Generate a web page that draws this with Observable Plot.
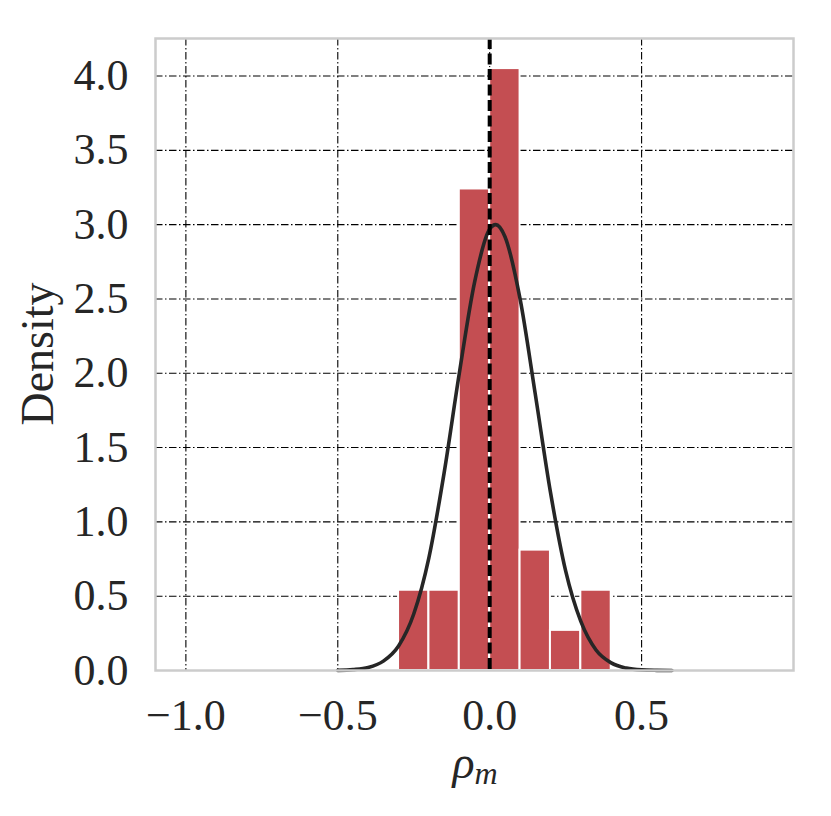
<!DOCTYPE html>
<html>
<head>
<meta charset="utf-8">
<script src="https://cdn.jsdelivr.net/npm/d3@7"></script>
<script src="https://cdn.jsdelivr.net/npm/@observablehq/plot@0.6"></script>
<style>
  html, body { margin: 0; padding: 0; background: #fff; }
  #chart svg { display: block; }
</style>
</head>
<body>
<div id="chart"></div>
<script>
// Histogram bins (left/right edges) and density heights
const binLeft = [-0.3, -0.2, -0.1, 0.0, 0.1, 0.2, 0.3];
const binRight = [-0.2, -0.1, 0.0, 0.1, 0.2, 0.3, 0.4];
const binDensity = [0.54, 0.54, 3.24, 4.05, 0.81, 0.27, 0.54];

// Fitted density curve
const curveX = [-0.50, -0.45, -0.40, -0.35, -0.30, -0.25, -0.20, -0.15, -0.10, -0.05, 0.00, 0.02, 0.05, 0.10, 0.15, 0.20, 0.25, 0.30, 0.35, 0.40, 0.45, 0.50, 0.55, 0.60];
const curveY = [0.001, 0.006, 0.02, 0.063, 0.165, 0.38, 0.76, 1.33, 2.00, 2.61, 2.97, 3.00, 2.92, 2.50, 1.86, 1.20, 0.67, 0.33, 0.138, 0.051, 0.016, 0.004, 0.001, 0.0];

// Reference (mean) line position
const refLine = [0.0];

// Ticks
const xTicks = [-1.0, -0.5, 0.0, 0.5];
const yTicks = [0.0, 0.5, 1.0, 1.5, 2.0, 2.5, 3.0, 3.5, 4.0];
const yGrid = [0.5, 1.0, 1.5, 2.0, 2.5, 3.0, 3.5, 4.0];

const bins = binLeft.map((x1, i) => ({x1, x2: binRight[i], y: binDensity[i]}));
const curve = curveX.map((x, i) => ({x, y: curveY[i]}));

const font = "'Liberation Serif', 'DejaVu Serif', serif";
const gridDash = "7.5,2.5,1.5,2.5";

const chart = Plot.plot({
  width: 831,
  height: 816,
  marginLeft: 155,
  marginRight: 38,
  marginTop: 38,
  marginBottom: 146,
  style: {fontFamily: font, fontSize: "44px", color: "#262626", background: "#fff"},
  x: {domain: [-1.1, 1.0], ticks: xTicks, tickFormat: d3.format(".1f"), label: null, tickSize: 0, tickPadding: 28},
  y: {domain: [0, 4.2525], ticks: yTicks, tickFormat: d3.format(".1f"), label: null, tickSize: 0, tickPadding: 27},
  marks: [
    Plot.ruleX(xTicks, {stroke: "#000", strokeWidth: 1.1, strokeDasharray: gridDash}),
    Plot.ruleY(yGrid, {stroke: "#000", strokeWidth: 1.1, strokeDasharray: gridDash}),
    Plot.rectY(bins, {x1: "x1", x2: "x2", y: "y", fill: "#c44e52", stroke: "#fff", strokeWidth: 2}),
    Plot.line(curve, {x: "x", y: "y", stroke: "#262626", strokeWidth: 3.6, curve: "monotone-x"}),
    Plot.ruleX(refLine, {stroke: "#000", strokeWidth: 4, strokeDasharray: "11,4.5"}),
    Plot.frame({stroke: "#cccccc", strokeWidth: 2.5})
  ]
});

document.getElementById("chart").appendChild(chart);

const svg = d3.select(chart);
svg.append("text")
  .attr("transform", "translate(53,354) rotate(-90)")
  .attr("text-anchor", "middle")
  .style("font-family", font)
  .style("font-size", "46px")
  .attr("fill", "#262626")
  .text("Density");

const xl = svg.append("text")
  .attr("x", 475)
  .attr("y", 778)
  .attr("text-anchor", "middle")
  .style("font-family", font)
  .style("font-size", "46px")
  .style("font-style", "italic")
  .attr("fill", "#262626");
xl.append("tspan").text("ρ");
xl.append("tspan").attr("dy", 6).style("font-size", "32px").text("m");
</script>
</body>
</html>
